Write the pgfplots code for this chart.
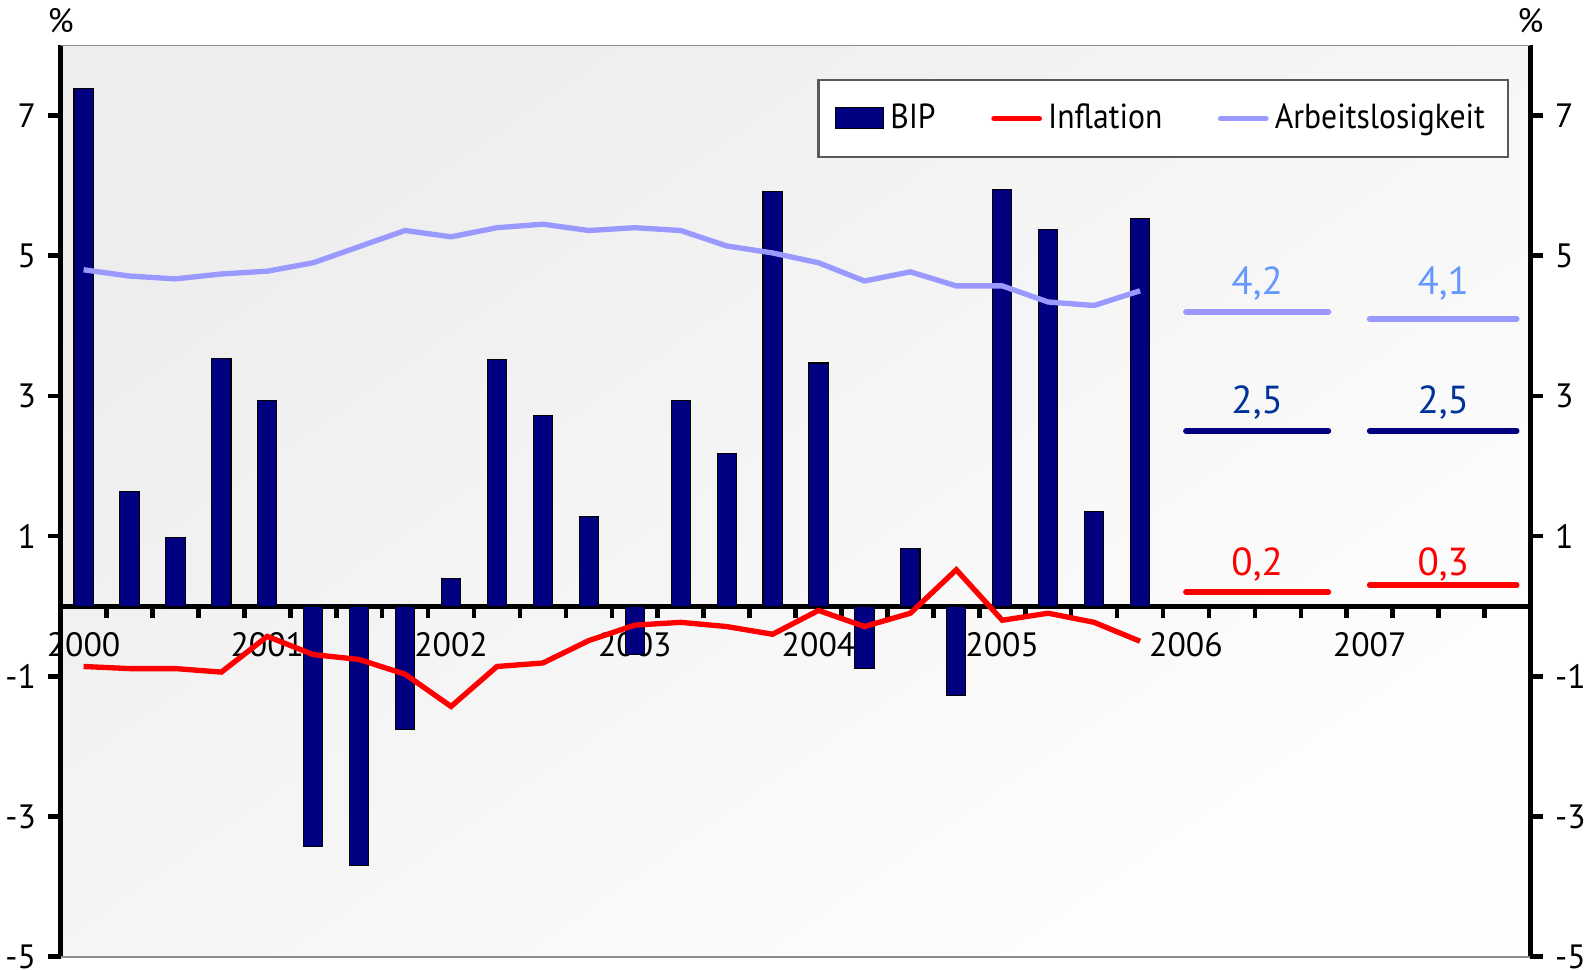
\documentclass[border=0pt]{standalone}
\usepackage{fontspec}
\setmainfont{PT Sans}
\usepackage{pgfplots}
\usepackage{pgfplotstable}
\pgfplotsset{compat=1.18}

\definecolor{bipblue}{RGB}{0,0,128}
\definecolor{infred}{RGB}{255,0,0}
\definecolor{alblue}{RGB}{153,153,255}
\definecolor{altext}{RGB}{102,153,255}
\definecolor{biptext}{RGB}{0,51,153}

\pgfplotsset{
    barlegend/.style={legend image code/.code={%
        \draw[fill=bipblue, draw=black, line width=0.3pt] (0cm,-0.1cm) rectangle (0.48cm,0.11cm);}},
    linelegend/.style={legend image code/.code={%
        \draw[##1, line cap=round] (0cm,0cm) -- (0.45cm,0cm);}},
}
\tikzset{fclabel/.style={anchor=base, font=\fontsize{11}{13}\selectfont, yshift=0.17cm}}

% quarters 2000Q1 .. 2005Q4 (q = 0..23)
\pgfplotstableread{
q  bip    inf    al
0   7.38  -0.86  4.80
1   1.64  -0.89  4.71
2   0.98  -0.89  4.67
3   3.53  -0.94  4.74
4   2.94  -0.43  4.78
5  -3.43  -0.69  4.90
6  -3.70  -0.76  5.13
7  -1.76  -0.97  5.36
8   0.40  -1.43  5.27
9   3.52  -0.86  5.40
10  2.72  -0.81  5.45
11  1.28  -0.49  5.36
12 -0.69  -0.27  5.40
13  2.94  -0.23  5.36
14  2.18  -0.29  5.14
15  5.92  -0.40  5.04
16  3.47  -0.06  4.90
17 -0.89  -0.29  4.64
18  0.82  -0.10  4.77
19 -1.28   0.52  4.57
20  5.95  -0.20  4.57
21  5.37  -0.10  4.34
22  1.35  -0.23  4.29
23  5.53  -0.50  4.50
}\quarters

\begin{document}
\begin{tikzpicture}
\useasboundingbox (-0.60,-0.13) rectangle (15.08,9.47);
\begin{axis}[
    name=main,
    width=14.55cm, height=9.02cm, scale only axis,
    at={(0,0)}, anchor=south west,
    xmin=-0.5, xmax=31.5, ymin=-5, ymax=8,
    axis x line*=middle, axis y line*=left,
    axis line style={-, line width=1.3pt, black},
    tick style={black, line width=1.3pt},
    major tick length=0.12cm,
    tick align=outside,
    xtick={-0.5,0.5,...,31.5}, xticklabels={},
    extra x ticks={0,4,...,28},
    extra x tick labels={2000,2001,2002,2003,2004,2005,2006,2007},
    extra x tick style={major tick length=0pt, tick label style={yshift=-0.14cm}},
    ytick={-5,-3,-1,1,3,5,7}, yticklabels={-5,-3,-1,1,3,5,7},
    tick label style={font=\fontsize{9.5}{11}\selectfont},
    axis background/.style={top color=black!7, bottom color=black!0.5, shading angle=35},
    legend columns=3,
    legend style={at={(0.9856,0.963)}, anchor=north east, draw=black!65,
        line width=0.6pt, fill=white,
        font=\fontsize{9.8}{11}\selectfont\addfontfeatures{FakeStretch=0.91},
        inner xsep=0.16cm, inner ysep=0.16cm,
        /tikz/every odd column/.append style={column sep=-0.01cm},
        /tikz/every even column/.append style={column sep=0.48cm}},
]
\addplot[ybar, bar width=0.19cm, fill=bipblue, draw=black, line width=0.3pt, barlegend]
    table[x=q, y=bip] {\quarters};
\addlegendentry{BIP}
\addplot[infred, line width=1.5pt, linelegend]
    table[x=q, y=inf] {\quarters};
\addlegendentry{Inflation}
\addplot[alblue, line width=1.5pt, linelegend]
    table[x=q, y=al] {\quarters};
\addlegendentry{Arbeitslosigkeit}

% forecasts 2006 and 2007
\addplot[alblue, line width=1.6pt, line cap=round, forget plot] coordinates {(24,4.2) (27.1,4.2)};
\addplot[alblue, line width=1.6pt, line cap=round, forget plot] coordinates {(28,4.1) (31.2,4.1)};
\addplot[bipblue, line width=1.6pt, line cap=round, forget plot] coordinates {(24,2.5) (27.1,2.5)};
\addplot[bipblue, line width=1.6pt, line cap=round, forget plot] coordinates {(28,2.5) (31.2,2.5)};
\addplot[infred, line width=1.6pt, line cap=round, forget plot] coordinates {(24,0.2) (27.1,0.2)};
\addplot[infred, line width=1.6pt, line cap=round, forget plot] coordinates {(28,0.3) (31.2,0.3)};

\node[fclabel, text=altext] at (axis cs:25.55,4.2) {4,2};
\node[fclabel, text=altext] at (axis cs:29.6,4.2) {4,1};
\node[fclabel, text=biptext] at (axis cs:25.55,2.5) {2,5};
\node[fclabel, text=biptext] at (axis cs:29.6,2.5) {2,5};
\node[fclabel, text=infred] at (axis cs:25.55,0.2) {0,2};
\node[fclabel, text=infred] at (axis cs:29.6,0.2) {0,3};
\end{axis}

\begin{axis}[
    width=14.55cm, height=9.02cm, scale only axis,
    at={(0,0)}, anchor=south west,
    xmin=-0.5, xmax=31.5, ymin=-5, ymax=8,
    axis x line=none, axis y line*=right,
    axis line style={-, line width=1.3pt, black},
    tick style={black, line width=1.3pt},
    major tick length=0.12cm,
    tick align=outside,
    ytick={-5,-3,-1,1,3,5,7}, yticklabels={-5,-3,-1,1,3,5,7},
    tick label style={font=\fontsize{9.5}{11}\selectfont},
]
\addplot[draw=none, forget plot] coordinates {(0,0)};
\end{axis}

\draw[black!45, line width=0.5pt] (main.north west) -- (main.north east);
\draw[black!45, line width=0.5pt] (main.south west) -- (main.south east);
\node[anchor=base, yshift=0.13cm, font=\fontsize{9.5}{11}\selectfont] at (main.north west) {\%};
\node[anchor=base, yshift=0.13cm, font=\fontsize{9.5}{11}\selectfont] at (main.north east) {\%};
\end{tikzpicture}
\end{document}
